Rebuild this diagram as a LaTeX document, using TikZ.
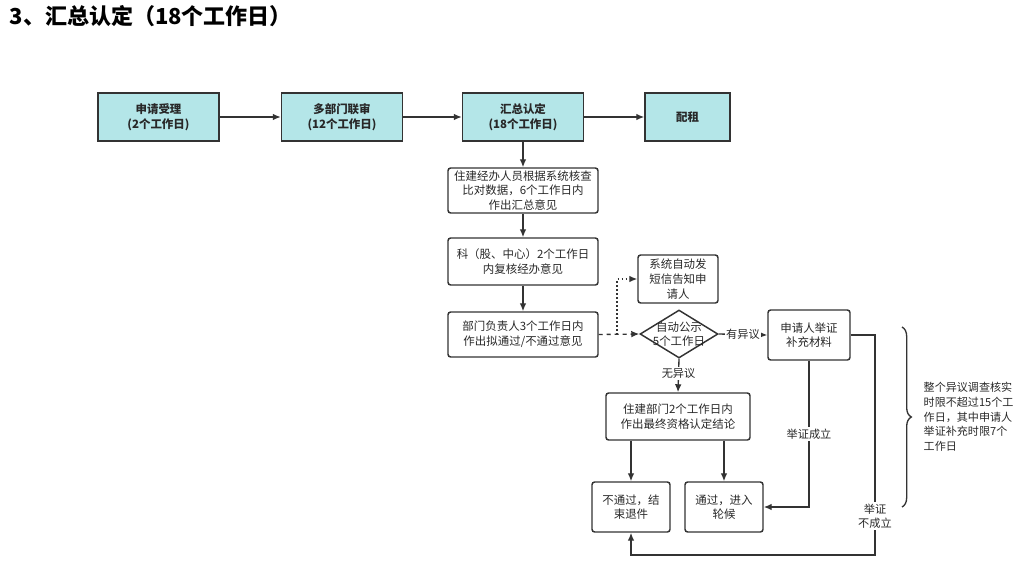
\documentclass[tikz,border=0pt]{standalone}
\usepackage{fontspec}
\setmainfont{Noto Sans CJK SC}
\usepackage{xcolor}
\usetikzlibrary{arrows.meta,shapes.geometric,decorations.pathreplacing}
\definecolor{cLine}{RGB}{51,51,51}
\definecolor{cStage}{RGB}{180,230,232}
\definecolor{cText}{RGB}{40,40,40}

\begin{document}
\begin{tikzpicture}[x=0.75pt,y=-0.75pt,
  line/.style={cLine,line width=1pt},
  arr/.style={line,-{Latex[length=6pt,width=5pt]}},
  stage/.style={draw=cLine,line width=1.1pt,fill=cStage,minimum height=36pt,
    inner sep=0pt,align=center,font=\fontsize{8.6}{11}\selectfont\bfseries,text=cText},
  flowbox/.style={draw=cLine,line width=1.1pt,rounded corners=2pt,inner sep=0pt,
    align=center,font=\fontsize{8.6}{11}\selectfont,text=cText},
  tag/.style={fill=white,inner sep=1pt,font=\fontsize{8.4}{10.5}\selectfont,text=cText,align=center}]
\useasboundingbox (0,0) rectangle (1023,572);
\node[anchor=west,font=\fontsize{16.5}{19}\selectfont\bfseries] (title) at (5,16) {3、汇总认定（18个工作日）};
\node[stage,minimum width=90.75pt] (accept) at (158.5,117) {申请受理\\(2个工作日)};
\node[stage,minimum width=90.75pt] (joint) at (342,117) {多部门联审\\(12个工作日)};
\node[stage,minimum width=90.75pt] (summary) at (523,117) {汇总认定\\(18个工作日)};
\node[stage,minimum width=63.75pt] (rent) at (687.5,117) {配租};
\draw[arr] (accept) -- (joint);
\draw[arr] (joint) -- (summary);
\draw[arr] (summary) -- (rent);
\node[flowbox,minimum width=112.5pt,minimum height=33.75pt] (check) at (523,190.5) {住建经办人员根据系统核查\\比对数据，6个工作日内\\作出汇总意见};
\node[flowbox,minimum width=112.5pt,minimum height=35.25pt] (review) at (523,261.5) {科（股、中心）2个工作日\\内复核经办意见};
\node[flowbox,minimum width=112.5pt,minimum height=33.75pt] (head) at (523,334.5) {部门负责人3个工作日内\\作出拟通过/不通过意见};
\draw[arr] (summary) -- (check);
\draw[arr] (check) -- (review);
\draw[arr] (review) -- (head);
\node[flowbox,minimum width=60pt,minimum height=36pt] (sms) at (678,279) {系统自动发\\短信告知申\\请人};
\node[draw=cLine,line width=1.1pt,diamond,minimum width=58.5pt,minimum height=36pt,inner sep=0pt] (publicity) at (679,334) {};
\node[font=\fontsize{8.6}{10.5}\selectfont,align=center,text=cText] (pubtext) at (publicity.center) {自动公示\\5个工作日};
\coordinate (split) at (617,334.5);
\draw[arr,dashed] (head.east) -- (publicity.west);
\draw[arr,dotted] (split) |- (sms.west);
\node[flowbox,minimum width=61.5pt,minimum height=37.5pt] (proof) at (809,335) {申请人举证\\补充材料};
\draw[arr] (publicity.east) -- node[tag] (objection) {有异议} (proof.west);
\node[flowbox,minimum width=108pt,minimum height=35.25pt] (final) at (678,416.5) {住建部门2个工作日内\\作出最终资格认定结论};
\draw[arr] (publicity.south) -- node[tag,pos=0.45] (noobjection) {无异议} (final.north);
\node[flowbox,minimum width=58.5pt,minimum height=37.5pt] (fail) at (631,507) {不通过，结\\束退件};
\node[flowbox,minimum width=58.5pt,minimum height=37.5pt] (pass) at (724,507) {通过，进入\\轮候};
\draw[arr] (fail.north |- final.south) -- (fail.north);
\draw[arr] (pass.north |- final.south) -- (pass.north);
\draw[arr] (proof.south) |- (pass.east);
\node[tag] (proven) at (809,434) {举证成立};
\coordinate (turn) at (875,555);
\draw[arr] (proof.east) -| (turn) -| (fail.south);
\node[tag] (unproven) at (875,516) {举证\\不成立};
\draw[line,decorate,decoration={brace,amplitude=7pt}] (902,327) -- (902,507);
\node[anchor=west,align=left,font=\fontsize{8.3}{11}\selectfont,text=cText] (limit) at (919,417) {整个异议调查核实\\时限不超过15个工\\作日，其中申请人\\举证补充时限7个\\工作日};
\end{tikzpicture}
\end{document}
